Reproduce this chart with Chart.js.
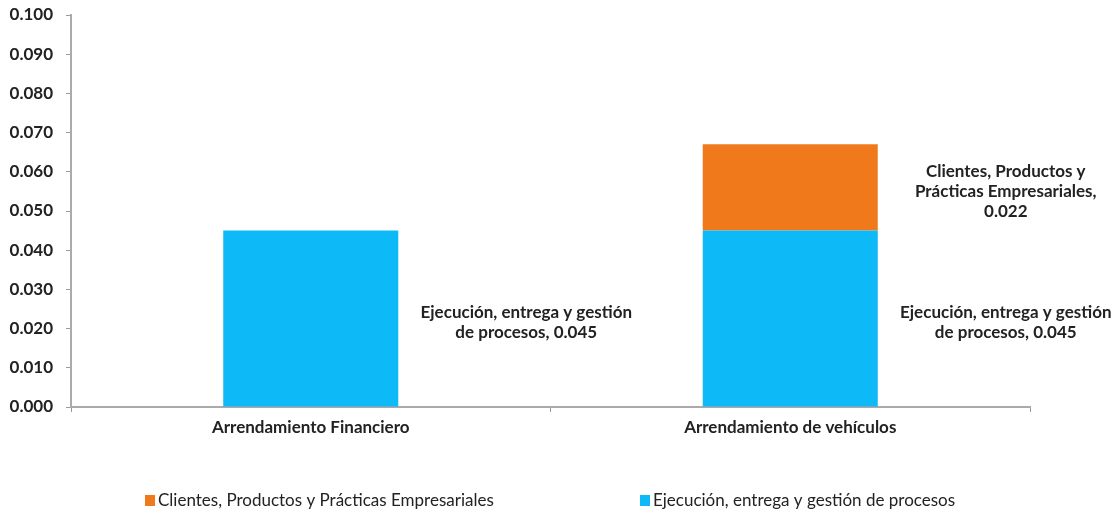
<!DOCTYPE html>
<html>
<head>
<meta charset="utf-8">
<script src="https://cdn.jsdelivr.net/npm/chart.js@4.4.0/dist/chart.umd.min.js"></script>
<style>
  html, body { margin: 0; padding: 0; background: #fff; }
  #wrap { width: 1115px; height: 514px; }
</style>
</head>
<body>
<div id="wrap"><canvas id="riskChart"></canvas></div>
<script>
var categories = ["Arrendamiento Financiero", "Arrendamiento de vehículos"];
var ejecucion = [0.045, 0.045];
var clientes = [0, 0.022];
var yTicks = [0, 0.01, 0.02, 0.03, 0.04, 0.05, 0.06, 0.07, 0.08, 0.09, 0.1];

var serieEjecucion = "Ejecución, entrega y gestión de procesos";
var serieClientes = "Clientes, Productos y Prácticas Empresariales";

var fontName = "Lato, 'Open Sans', sans-serif";

// labels written to the right of each bar segment
var barLabels = {
  id: "barLabels",
  afterDatasetsDraw: function(chart) {
    var ctx = chart.ctx;
    ctx.save();
    ctx.font = "bold 17px " + fontName;
    ctx.fillStyle = "#222";
    ctx.textAlign = "center";
    ctx.textBaseline = "middle";
    chart.data.datasets.forEach(function(ds, di) {
      var meta = chart.getDatasetMeta(di);
      meta.data.forEach(function(bar, i) {
        var v = ds.data[i];
        if (!v) return;
        var lines = ds.labelLines.slice();
        lines[lines.length - 1] += v.toFixed(3);
        var cx = bar.x + bar.width / 2 + 128;
        var cy = (bar.y + bar.base) / 2 + 4;
        var lh = 20;
        var y0 = cy - (lines.length - 1) * lh / 2;
        lines.forEach(function(t, k) {
          ctx.fillText(t, cx, y0 + k * lh);
        });
      });
    });
    ctx.restore();
  }
};

// legend at the bottom, wide spaced like the original
var bottomLegend = {
  id: "bottomLegend",
  afterDraw: function(chart) {
    var ctx = chart.ctx;
    var items = [chart.data.datasets[1], chart.data.datasets[0]];
    var xs = [145, 640];
    ctx.save();
    ctx.font = "17px " + fontName;
    ctx.textBaseline = "middle";
    ctx.textAlign = "left";
    items.forEach(function(ds, i) {
      ctx.fillStyle = ds.backgroundColor;
      ctx.fillRect(xs[i], 495, 10, 11);
      ctx.fillStyle = "#222";
      ctx.fillText(ds.label, xs[i] + 13, 501);
    });
    ctx.restore();
  }
};

var ctx = document.getElementById("riskChart").getContext("2d");

var riskChart = new Chart(ctx, {
  type: "bar",
  data: {
    labels: categories,
    datasets: [{
      label: serieEjecucion,
      data: ejecucion,
      backgroundColor: "#0DB9F6",
      labelLines: ["Ejecución, entrega y gestión", "de procesos, "]
    }, {
      label: serieClientes,
      data: clientes,
      backgroundColor: "#F07A1B",
      labelLines: ["Clientes, Productos y", "Prácticas Empresariales,", ""]
    }]
  },
  options: {
    responsive: true,
    maintainAspectRatio: false,
    animation: false,
    layout: { padding: { top: 15, right: 85, left: 0, bottom: 0 } },
    datasets: { bar: { categoryPercentage: 1, barPercentage: 0.365 } },
    plugins: {
      legend: { display: false },
      tooltip: { enabled: false }
    },
    scales: {
      x: {
        stacked: true,
        afterFit: function(s) { s.height = 107; },
        grid: { drawOnChartArea: false, drawTicks: true, tickLength: 5, color: "#999" },
        border: { color: "#aaa", width: 2 },
        ticks: { color: "#222", padding: 5, font: { family: fontName, size: 17, weight: "bold" } }
      },
      y: {
        stacked: true,
        min: 0,
        max: 0.1,
        afterFit: function(s) { s.width = 71; s.paddingTop = 0; s.paddingBottom = 0; },
        afterBuildTicks: function(s) {
          s.ticks = yTicks.map(function(v) { return { value: v }; });
        },
        grid: { drawOnChartArea: false, drawTicks: true, tickLength: 5, color: "#999" },
        border: { color: "#aaa", width: 2 },
        ticks: {
          color: "#222",
          padding: 13,
          font: { family: fontName, size: 17, weight: "bold" },
          callback: function(v) { return Number(v).toFixed(3); }
        }
      }
    }
  },
  plugins: [barLabels, bottomLegend]
});
</script>
</body>
</html>
